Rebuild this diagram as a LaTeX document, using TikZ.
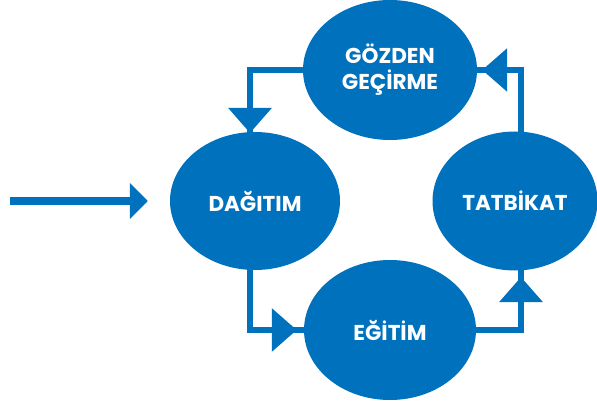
\documentclass[tikz,border=0pt]{standalone}
\usepackage{fontspec}
\setmainfont{Poppins}
\usepackage{tikz}
\usetikzlibrary{arrows.meta,positioning,calc,shapes.geometric,decorations.markings}
\definecolor{cycleBlue}{HTML}{0071BC}
\tikzset{
  phase/.style={
    ellipse, fill=cycleBlue, draw=none,
    minimum width=172pt, minimum height=139pt,
    align=center, text=white,
    font=\fontsize{21.5}{26}\selectfont\bfseries,
    inner sep=0pt
  },
  link/.style={draw=cycleBlue, line width=6.5pt},
  tip/.style={postaction={decorate, decoration={markings,
      mark=at position #1 with {\arrow{Triangle[length=25pt,width=42pt]}}}}},
  feed/.style={link, line width=7.5pt,
    -{Triangle[length=18pt,width=35pt]}}
}

\begin{document}
\begin{tikzpicture}[x=1pt, y=1pt]
  \useasboundingbox (0,0) rectangle (597,405);

  % connectors
  \coordinate (in) at (10,204);
  \coordinate (dagTop) at (250,268);
  \coordinate (dagBot) at (250,136);
  \coordinate (tatTop) at (521,268);
  \coordinate (tatBot) at (521,136);

  % cycle stages
  \node[phase, minimum width=174pt, minimum height=140pt] (goz) at (390,335) {GÖZDEN\\GEÇİRME};
  \node[phase, minimum width=170pt, minimum height=138pt] (dag) at (255,204) {DAĞITIM};
  \node[phase, minimum height=140pt]                      (egi) at (390,75)  {EĞİTİM};
  \node[phase, minimum width=165pt]                       (tat) at (515,204) {TATBİKAT};

  % arrows
  \draw[feed, shorten >=22pt] (in) -- (dag.west);
  \draw[link, tip=-4pt] (goz.west) -| (dagTop);
  \draw[link, tip=-7pt] (dagBot) |- (egi.west);
  \draw[link, tip=-8pt] (egi.east) -| (tatBot);
  \draw[link, tip=-5pt] (tatTop) |- (goz.east);
\end{tikzpicture}
\end{document}
